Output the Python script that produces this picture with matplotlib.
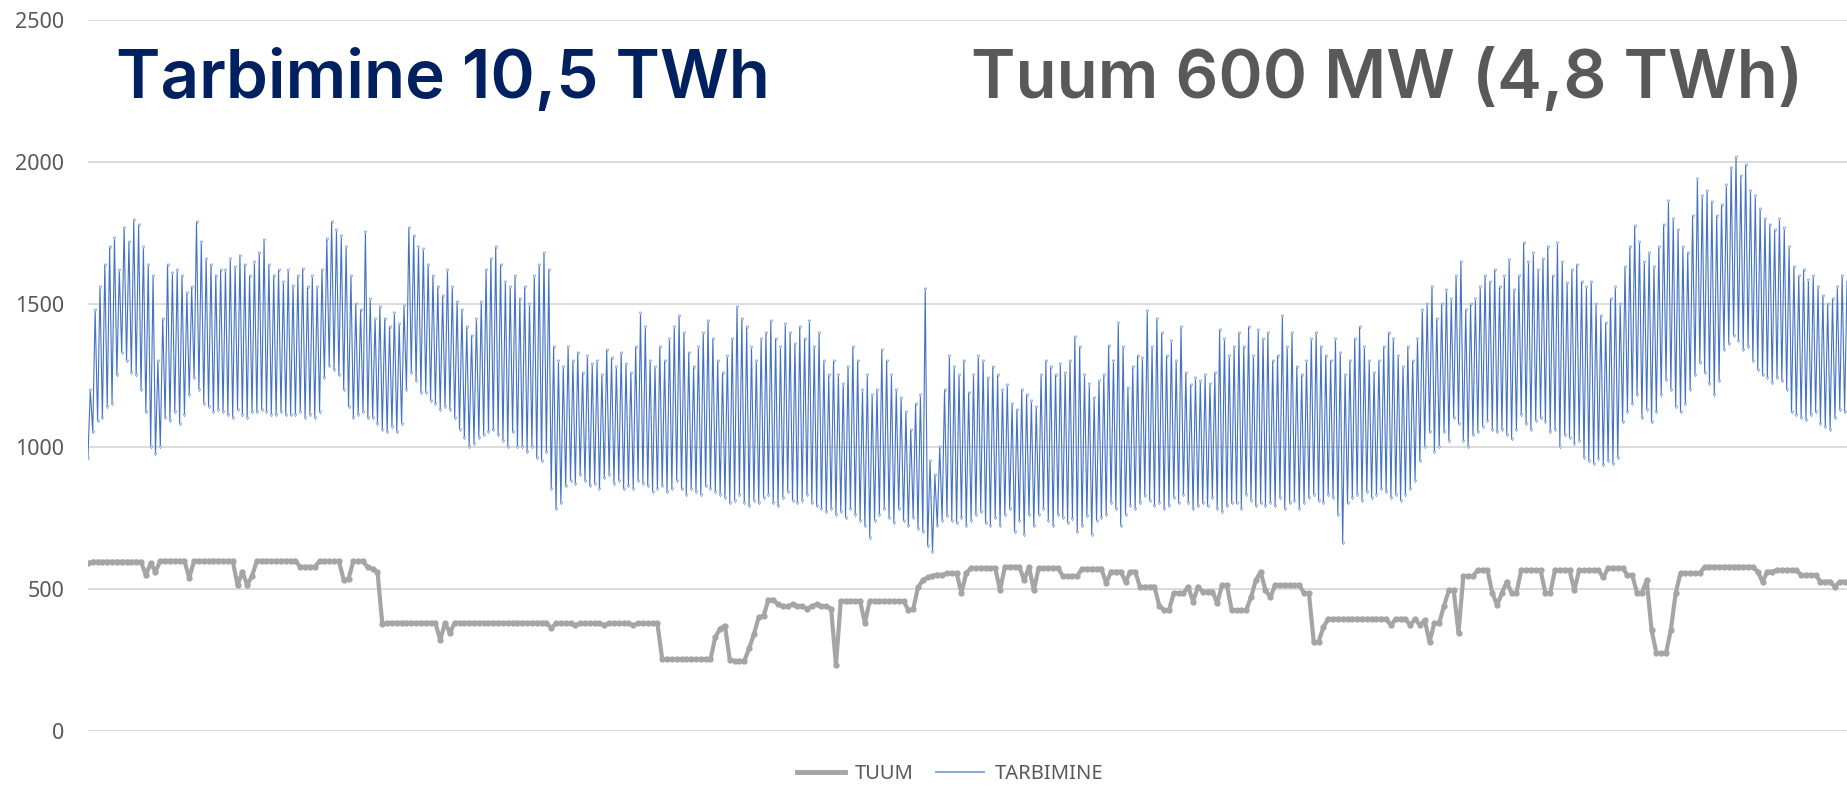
import numpy as np
import matplotlib
matplotlib.use("Agg")
import matplotlib.pyplot as plt
from matplotlib.lines import Line2D

plt.rcParams['font.family'] = ['Noto Sans', 'DejaVu Sans']

# TUUM: daily values (MW)
tuum = [
    590, 595, 595, 595, 595, 595, 595, 595, 595, 595,
    595, 595, 548, 590, 560, 598, 598, 598, 598, 598,
    598, 538, 598, 598, 598, 598, 598, 598, 598, 598,
    598, 513, 560, 513, 545, 598, 598, 598, 598, 598,
    598, 598, 598, 598, 577, 577, 577, 577, 597, 597,
    597, 597, 597, 531, 535, 597, 597, 597, 575, 570,
    560, 376, 380, 380, 380, 380, 380, 380, 380, 380,
    380, 380, 380, 320, 380, 345, 380, 380, 380, 380,
    380, 380, 380, 380, 380, 380, 380, 380, 380, 380,
    380, 380, 380, 380, 380, 380, 362, 378, 378, 378,
    378, 372, 378, 378, 378, 378, 378, 372, 378, 378,
    378, 378, 378, 372, 378, 378, 378, 378, 378, 253,
    253, 253, 253, 253, 253, 253, 253, 253, 253, 253,
    330, 360, 370, 250, 246, 246, 246, 290, 340, 400,
    405, 460, 462, 445, 438, 438, 445, 438, 438, 430,
    438, 445, 438, 438, 430, 232, 457, 457, 457, 457,
    457, 380, 457, 457, 457, 457, 457, 457, 457, 457,
    425, 428, 505, 530, 540, 545, 550, 548, 555, 555,
    555, 485, 555, 573, 573, 573, 573, 573, 573, 495,
    577, 577, 577, 577, 530, 577, 495, 573, 573, 573,
    573, 573, 545, 545, 545, 545, 570, 570, 570, 570,
    570, 520, 560, 560, 560, 525, 560, 560, 507, 507,
    507, 507, 440, 425, 425, 485, 485, 485, 507, 455,
    507, 490, 490, 490, 450, 513, 513, 425, 425, 425,
    425, 470, 530, 560, 495, 470, 513, 513, 513, 513,
    513, 513, 485, 485, 313, 313, 365, 394, 394, 394,
    394, 394, 394, 394, 394, 394, 394, 394, 394, 394,
    372, 394, 394, 394, 372, 394, 372, 390, 313, 380,
    380, 440, 495, 495, 345, 545, 545, 545, 566, 566,
    566, 485, 443, 485, 525, 485, 485, 566, 566, 566,
    566, 566, 485, 485, 566, 566, 566, 566, 495, 565,
    565, 565, 565, 565, 540, 573, 573, 573, 573, 548,
    548, 485, 485, 530, 355, 274, 274, 274, 355, 485,
    555, 555, 555, 555, 555, 577, 577, 577, 577, 577,
    577, 577, 577, 577, 577, 577, 560, 525, 560, 560,
    566, 566, 566, 566, 566, 548, 548, 548, 548, 525,
    525, 525, 507, 525, 525,
]

# TARBIMINE: daily peak and night low (MW), one row per week
tarb_peak = [
    1200, 1480, 1560, 1640, 1700, 1735, 1620,
    1770, 1720, 1795, 1780, 1700, 1640, 1600,
    1300, 1450, 1640, 1610, 1620, 1600, 1540,
    1560, 1790, 1720, 1660, 1640, 1600, 1620,
    1620, 1660, 1630, 1670, 1640, 1600, 1650,
    1680, 1725, 1640, 1600, 1620, 1580, 1620,
    1565, 1600, 1625, 1560, 1600, 1560, 1620,
    1730, 1790, 1760, 1740, 1700, 1600, 1500,
    1480, 1755, 1520, 1450, 1490, 1450, 1420,
    1470, 1430, 1495, 1770, 1740, 1700, 1695,
    1640, 1600, 1560, 1530, 1620, 1560, 1510,
    1480, 1420, 1390, 1450, 1510, 1620, 1660,
    1700, 1640, 1580, 1560, 1600, 1520, 1560,
    1500, 1600, 1640, 1680, 1620, 1350, 1300,
    1280, 1350, 1300, 1330, 1260, 1320, 1290,
    1300, 1250, 1340, 1310, 1280, 1330, 1290,
    1260, 1350, 1470, 1420, 1300, 1280, 1350,
    1300, 1380, 1420, 1460, 1400, 1330, 1280,
    1350, 1400, 1440, 1380, 1300, 1260, 1320,
    1380, 1490, 1450, 1420, 1350, 1300, 1380,
    1400, 1440, 1380, 1350, 1430, 1400, 1360,
    1420, 1380, 1440, 1350, 1400, 1300, 1250,
    1300, 1250, 1220, 1280, 1350, 1300, 1200,
    1250, 1180, 1200, 1340, 1300, 1250, 1200,
    1170, 1120, 1060, 1150, 1180, 1555, 950,
    900, 1000, 1200, 1320, 1280, 1250, 1300,
    1190, 1250, 1320, 1300, 1240, 1280, 1250,
    1200, 1215, 1150, 1130, 1200, 1180, 1160,
    1140, 1250, 1300, 1280, 1250, 1290, 1260,
    1300, 1385, 1350, 1250, 1220, 1170, 1230,
    1250, 1355, 1300, 1435, 1350, 1205, 1280,
    1320, 1310, 1475, 1350, 1450, 1400, 1320,
    1370, 1300, 1420, 1260, 1215, 1240, 1230,
    1250, 1220, 1260, 1410, 1380, 1320, 1350,
    1400, 1350, 1420, 1320, 1410, 1380, 1400,
    1300, 1320, 1460, 1350, 1400, 1280, 1250,
    1300, 1380, 1400, 1350, 1320, 1300, 1380,
    1330, 1250, 1300, 1380, 1420, 1350, 1300,
    1260, 1300, 1350, 1400, 1380, 1320, 1280,
    1350, 1300, 1380, 1480, 1500, 1560, 1450,
    1500, 1550, 1520, 1600, 1650, 1480, 1500,
    1520, 1560, 1600, 1580, 1620, 1560, 1600,
    1655, 1550, 1600, 1715, 1650, 1680, 1620,
    1660, 1700, 1600, 1715, 1650, 1575, 1620,
    1640, 1580, 1560, 1580, 1500, 1460, 1435,
    1520, 1560, 1500, 1630, 1700, 1775, 1720,
    1650, 1680, 1630, 1700, 1780, 1865, 1800,
    1760, 1700, 1680, 1810, 1940, 1880, 1900,
    1860, 1810, 1850, 1920, 1980, 2017, 1950,
    1990, 1900, 1880, 1835, 1800, 1780, 1760,
    1800, 1770, 1700, 1630, 1600, 1620, 1585,
    1600, 1560, 1530, 1500, 1520, 1560, 1600,
    1580,
]
tarb_low = [
    960, 1050, 1090, 1100, 1140, 1150, 1250,
    1330, 1300, 1260, 1250, 1200, 1120, 1000,
    975, 1000, 1100, 1090, 1120, 1080, 1110,
    1180, 1240, 1200, 1150, 1140, 1120, 1130,
    1120, 1110, 1100, 1130, 1110, 1100, 1120,
    1120, 1130, 1120, 1110, 1110, 1120, 1110,
    1110, 1110, 1120, 1100, 1110, 1100, 1120,
    1240, 1285, 1270, 1250, 1200, 1140, 1100,
    1110, 1120, 1100, 1100, 1080, 1060, 1050,
    1070, 1050, 1080, 1200, 1260, 1230, 1190,
    1190, 1160, 1150, 1130, 1140, 1130, 1100,
    1060, 1030, 1000, 1010, 1030, 1040, 1050,
    1060, 1040, 1020, 1000, 1050, 1000, 1000,
    980, 1000, 960, 950, 980, 850, 780,
    800, 860, 880, 870, 900, 880, 860,
    870, 850, 890, 900, 870, 880, 850,
    860, 850, 880, 870, 860, 840, 850,
    860, 840, 850, 880, 850, 830, 850,
    840, 830, 860, 850, 840, 830, 820,
    800, 810, 830, 800, 790, 810, 800,
    820, 830, 800, 790, 820, 840, 810,
    800, 810, 830, 800, 790, 780, 770,
    780, 760, 770, 750, 780, 760, 740,
    720, 680, 740, 760, 780, 750, 730,
    780, 740, 720, 750, 710, 700, 650,
    630, 720, 740, 755, 740, 730, 750,
    720, 740, 760, 770, 730, 720, 750,
    720, 760, 780, 700, 740, 690, 760,
    720, 760, 780, 740, 720, 760, 750,
    730, 745, 700, 720, 755, 690, 740,
    750, 760, 800, 780, 720, 760, 790,
    780, 800, 825, 810, 790, 800, 780,
    790, 820, 800, 830, 800, 780, 790,
    800, 790, 820, 780, 770, 790, 800,
    800, 780, 830, 810, 790, 800, 790,
    800, 790, 820, 780, 800, 810, 780,
    800, 820, 830, 810, 800, 830, 820,
    760, 660, 800, 820, 830, 810, 840,
    820, 830, 850, 840, 820, 830, 810,
    830, 850, 880, 950, 1000, 1050, 980,
    1000, 1050, 1020, 1100, 1080, 1020, 1000,
    1040, 1050, 1070, 1090, 1060, 1050, 1060,
    1040, 1025, 1060, 1110, 1080, 1060, 1090,
    1100, 1085, 1050, 1060, 1000, 1040, 1030,
    1010, 1020, 960, 950, 940, 955, 935,
    950, 940, 960, 1085, 1120, 1150, 1180,
    1100, 1130, 1085, 1120, 1180, 1235, 1200,
    1140, 1120, 1150, 1200, 1250, 1295, 1260,
    1220, 1180, 1230, 1340, 1360, 1390, 1370,
    1340, 1350, 1300, 1270, 1250, 1240, 1225,
    1240, 1230, 1200, 1120, 1110, 1100, 1095,
    1110, 1120, 1080, 1070, 1060, 1100, 1130,
    1120,
]

y_ticks = [0, 500, 1000, 1500, 2000, 2500]
title_left = "Tarbimine 10,5 TWh"
title_right = "Tuum 600 MW (4,8 TWh)"

# night low then daytime peak for every day
tarb = np.column_stack([tarb_low, tarb_peak]).ravel()
x_tarb = np.arange(len(tarb)) / 2
x_tuum = np.arange(len(tuum))

fig = plt.figure(figsize=(18.47, 7.96), dpi=100)
ax = fig.add_axes([0.0476, 0.0817, 0.9524, 0.8932])

ax.plot(x_tuum, tuum, color='#A5A5A5', lw=3, marker='o', ms=3.5,
        solid_capstyle='round', zorder=3)
ax.plot(x_tarb, tarb, color='#4472C4', lw=0.8, marker='v', ms=2.2,
        mfc='#C9D6EE', mec='#6F93D3', mew=0.3, zorder=2)

ax.set_xlim(0, len(tuum) - 0.5)
ax.set_ylim(0, 2500)
ax.set_yticks(y_ticks)
ax.set_xticks([])
ax.grid(axis='y', color='#D9D9D9', lw=1.3)
ax.set_axisbelow(True)
for s in ax.spines.values():
    s.set_visible(False)
ax.tick_params(axis='y', length=0, pad=17, labelsize=15.5, labelcolor='#595959')

fig.text(0.063, 0.90, title_left, fontsize=48.5, fontweight='semibold', color='#002060',
         family=['Inter', 'DejaVu Sans'], va='center', ha='left')
fig.text(0.976, 0.90, title_right, fontsize=48.5, fontweight='semibold', color='#595959',
         family=['Inter', 'DejaVu Sans'], va='center', ha='right')

handles = [Line2D([], [], color='#A5A5A5', lw=3.5),
           Line2D([], [], color='#8FAADC', lw=1.5)]
leg = ax.legend(handles, ['TUUM', 'TARBIMINE'], loc='center',
                bbox_to_anchor=(0.49, -0.061), ncol=2, frameon=False,
                fontsize=14.5, handlelength=2.4, handletextpad=0.5, columnspacing=1.1)
for t in leg.get_texts():
    t.set_color('#595959')

fig.savefig('out.png', dpi=100)
